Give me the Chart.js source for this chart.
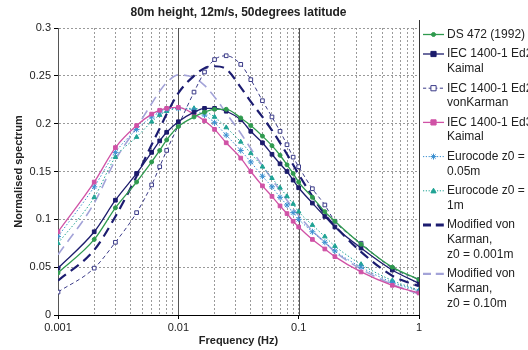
<!DOCTYPE html>
<html><head><meta charset="utf-8">
<script src="https://cdn.jsdelivr.net/npm/chart.js@4.4.0/dist/chart.umd.min.js"></script>
<style>html,body{margin:0;padding:0;background:#fff;}#wrap{width:528px;height:350px;position:relative;overflow:hidden;}</style>
</head><body><div id="wrap"><canvas id="c" width="528" height="350"></canvas></div>
<script>
const chartTitle = '80m height, 12m/s, 50degrees latitude';
const xAxisTitle = 'Frequency (Hz)';
const yAxisTitle = 'Normalised spectrum';

const frequency = [0.001,0.002,0.003,0.0045,0.006,0.007,0.008,0.01,0.0135,0.0165,0.02,0.025,0.033,0.04,0.05,0.06,0.07,0.08,0.09,0.1,0.13,0.165,0.2,0.33,0.6,1];

const ds472 = [0.044,0.079,0.112,0.139,0.160,0.172,0.183,0.197,0.207,0.212,0.215,0.215,0.206,0.198,0.187,0.177,0.167,0.157,0.148,0.139,0.123,0.108,0.098,0.074,0.050,0.037];
const iecEd2Kaimal = [0.049,0.087,0.120,0.148,0.170,0.182,0.191,0.202,0.212,0.216,0.216,0.213,0.204,0.192,0.180,0.168,0.158,0.150,0.141,0.133,0.117,0.103,0.092,0.070,0.047,0.033];
const iecEd2VonKarman = [0.024,0.049,0.076,0.107,0.136,0.155,0.172,0.198,0.233,0.254,0.267,0.271,0.262,0.246,0.224,0.207,0.192,0.178,0.165,0.155,0.132,0.115,0.098,0.075,0.049,0.037];
const iecEd3Kaimal = [0.087,0.139,0.175,0.198,0.210,0.214,0.216,0.217,0.210,0.203,0.194,0.180,0.164,0.150,0.135,0.124,0.114,0.106,0.098,0.092,0.079,0.069,0.061,0.045,0.031,0.023];
const eurocode005 = [0.082,0.134,0.170,0.194,0.207,0.212,0.215,0.216,0.214,0.209,0.201,0.188,0.172,0.160,0.145,0.134,0.123,0.115,0.107,0.100,0.087,0.076,0.067,0.050,0.034,0.025];
const eurocode1 = [0.075,0.123,0.165,0.186,0.202,0.209,0.213,0.216,0.216,0.213,0.207,0.196,0.181,0.169,0.155,0.143,0.133,0.124,0.116,0.108,0.094,0.082,0.072,0.053,0.036,0.026];
const modVonKarman0001 = [0.036,0.068,0.103,0.145,0.178,0.195,0.210,0.232,0.250,0.258,0.260,0.257,0.238,0.223,0.207,0.193,0.180,0.168,0.157,0.147,0.124,0.105,0.093,0.066,0.041,0.030];
const modVonKarman010 = [0.063,0.117,0.162,0.196,0.221,0.234,0.243,0.251,0.248,0.240,0.228,0.211,0.190,0.174,0.156,0.142,0.130,0.120,0.111,0.104,0.088,0.076,0.066,0.048,0.032,0.022];

const seriesLabels = [
  ['DS 472 (1992)'],
  ['IEC 1400-1 Ed2', 'Kaimal'],
  ['IEC 1400-1 Ed2', 'vonKarman'],
  ['IEC 1400-1 Ed3', 'Kaimal'],
  ['Eurocode z0 =', '0.05m'],
  ['Eurocode z0 =', '1m'],
  ['Modified von', 'Karman,', 'z0 = 0.001m'],
  ['Modified von', 'Karman,', 'z0 = 0.10m']
];
const seriesValues = [ds472, iecEd2Kaimal, iecEd2VonKarman, iecEd3Kaimal, eurocode005, eurocode1, modVonKarman0001, modVonKarman010];

const xTickValues = [0.001, 0.01, 0.1, 1];
const xTickLabels = ['0.001', '0.01', '0.1', '1'];
const yTickValues = [0, 0.05, 0.1, 0.15, 0.2, 0.25, 0.3];
const yTickLabels = ['0', '0.05', '0.1', '0.15', '0.2', '0.25', '0.3'];

const styles = [
  {color:'#2f9a4e', width:1.3, dash:[], point:'circle', r:2, fill:'#2f9a4e'},
  {color:'#1c1c6c', width:1.3, dash:[], point:'rect', r:2.6, fill:'#1c1c6c'},
  {color:'#3b3b88', width:1, dash:[4,3], point:'rect', r:2.6, fill:'#ffffff'},
  {color:'#d052a6', width:1.3, dash:[], point:'rect', r:2.6, fill:'#d052a6'},
  {color:'#3a8fd0', width:1, dash:[1.5,2], point:'star', r:3, fill:'#3a8fd0'},
  {color:'#1fa394', width:1, dash:[1.5,2], point:'triangle', r:2.6, fill:'#1fa394'},
  {color:'#1c1c70', width:2.2, dash:[10,6], point:false, r:0, fill:'#1c1c70'},
  {color:'#a3a3d8', width:1.6, dash:[10,6], point:false, r:0, fill:'#a3a3d8'}
];

const FONT = "'Liberation Sans', Arial, sans-serif";

const gridValues = [];
for (let d = 0; d < 3; d++) for (let m = 1; m <= 9; m++) gridValues.push(+(m * Math.pow(10, d - 3)).toPrecision(3));
gridValues.push(1);

const datasets = seriesValues.map((vals, i) => {
  const s = styles[i];
  return {
    label: seriesLabels[i].join(' '),
    data: frequency.map((f, j) => ({x: f, y: vals[j]})),
    borderColor: s.color,
    backgroundColor: s.fill,
    borderWidth: s.width,
    borderDash: s.dash,
    pointStyle: s.point,
    pointRadius: s.r,
    pointBorderColor: s.color,
    pointBackgroundColor: s.fill,
    pointBorderWidth: 1,
    cubicInterpolationMode: 'monotone',
    fill: false
  };
});

function drawMarker(ctx, style, x, y) {
  if (!style.point) return;
  const r = style.r;
  ctx.save();
  ctx.setLineDash([]);
  ctx.lineWidth = 1;
  ctx.strokeStyle = style.color;
  ctx.fillStyle = style.fill;
  ctx.beginPath();
  if (style.point === 'circle') { ctx.arc(x, y, r, 0, Math.PI * 2); ctx.fill(); ctx.stroke(); }
  else if (style.point === 'rect') { ctx.rect(x - r, y - r, 2 * r, 2 * r); ctx.fill(); ctx.stroke(); }
  else if (style.point === 'triangle') { ctx.moveTo(x, y - r); ctx.lineTo(x + r, y + r * 0.8); ctx.lineTo(x - r, y + r * 0.8); ctx.closePath(); ctx.fill(); ctx.stroke(); }
  else if (style.point === 'star') { ctx.moveTo(x - r, y); ctx.lineTo(x + r, y); ctx.moveTo(x, y - r); ctx.lineTo(x, y + r); ctx.moveTo(x - r*0.7, y - r*0.7); ctx.lineTo(x + r*0.7, y + r*0.7); ctx.moveTo(x - r*0.7, y + r*0.7); ctx.lineTo(x + r*0.7, y - r*0.7); ctx.stroke(); }
  ctx.restore();
}

const decorations = {
  id: 'decorations',
  beforeDatasetsDraw(chart) {
    const {ctx, chartArea, scales} = chart;
    ctx.save();
    ctx.strokeStyle = '#555';
    ctx.lineWidth = 1;
    xTickValues.forEach(v => {
      const px = Math.round(scales.x.getPixelForValue(v)) + 0.5;
      ctx.beginPath(); ctx.moveTo(px, chartArea.top); ctx.lineTo(px, chartArea.bottom); ctx.stroke();
    });
    ctx.restore();
  },
  afterDraw(chart) {
    const {ctx, chartArea} = chart;
    ctx.save();
    ctx.fillStyle = '#222';
    ctx.font = 'bold 12px ' + FONT;
    ctx.textAlign = 'center';
    ctx.textBaseline = 'middle';
    ctx.fillText(chartTitle, (chartArea.left + chartArea.right) / 2, 13);
    // legend
    const lx = chartArea.right;
    ctx.fillStyle = '#fff';
    ctx.fillRect(lx + 1, 20, 140, 300);
    ctx.strokeStyle = '#333';
    ctx.lineWidth = 1;
    ctx.beginPath(); ctx.moveTo(lx + 0.5, 20); ctx.lineTo(lx + 0.5, chartArea.bottom); ctx.stroke();
    ctx.font = '12px ' + FONT;
    ctx.textAlign = 'left';
    let y = 34.5;
    const lineH = 14.7, gap = 4.8;
    seriesLabels.forEach((lines, i) => {
      const s = styles[i];
      ctx.save();
      ctx.strokeStyle = s.color;
      ctx.lineWidth = s.width + (s.point ? 0 : 0.6);
      ctx.setLineDash(s.dash.length ? s.dash.map(d => d * 0.8) : []);
      ctx.beginPath(); ctx.moveTo(lx + 4, y); ctx.lineTo(lx + 25, y); ctx.stroke();
      ctx.restore();
      drawMarker(ctx, s, lx + 14.5, y);
      ctx.fillStyle = '#222';
      lines.forEach((t, k) => ctx.fillText(t, lx + 28, y + k * lineH));
      y += lines.length * lineH + gap;
    });
    ctx.restore();
  }
};

new Chart(document.getElementById('c'), {
  type: 'line',
  data: { datasets },
  plugins: [decorations],
  options: {
    responsive: false,
    animation: false,
    devicePixelRatio: 1,
    layout: { padding: { top: 28, right: 109, bottom: 0, left: 0 } },
    plugins: { legend: { display: false }, tooltip: { enabled: false }, title: { display: false } },
    scales: {
      x: {
        type: 'logarithmic',
        min: 0.001, max: 1,
        afterBuildTicks: (scale) => { scale.ticks = gridValues.map(v => ({ value: v })); },
        afterFit: (scale) => { scale.height = 35; },
        ticks: {
          autoSkip: false, maxRotation: 0, color: '#222', padding: 2,
          font: { family: FONT, size: 11 },
          callback: (value) => { const i = xTickValues.findIndex(v => Math.abs(v - value) < 1e-9); return i >= 0 ? xTickLabels[i] : ''; }
        },
        grid: {
          color: '#9a9a9a', lineWidth: 1, tickLength: 4, tickBorderDash: [],
          tickColor: (c) => xTickValues.some(v => Math.abs(v - c.tick.value) < 1e-9) ? '#000' : 'rgba(0,0,0,0)'
        },
        border: { color: '#000', width: 1, dash: [2, 2] },
        title: { display: true, text: xAxisTitle, color: '#222', font: { family: FONT, size: 11, weight: 'bold' }, padding: { top: 0, bottom: 2 } }
      },
      y: {
        min: 0, max: 0.3,
        afterBuildTicks: (scale) => { scale.ticks = yTickValues.map(v => ({ value: v })); },
        afterFit: (scale) => { scale.width = 58; },
        ticks: {
          color: '#222', padding: 3, font: { family: FONT, size: 11 },
          callback: (value) => { const i = yTickValues.findIndex(v => Math.abs(v - value) < 1e-9); return i >= 0 ? yTickLabels[i] : ''; }
        },
        grid: { color: '#9a9a9a', lineWidth: 1, tickLength: 4, tickBorderDash: [], tickColor: '#000' },
        border: { color: '#000', width: 1, dash: [2, 2] },
        title: { display: true, text: yAxisTitle, color: '#222', font: { family: FONT, size: 11, weight: 'bold' }, padding: { top: 12, bottom: 0 } }
      }
    }
  }
});
</script>
</body></html>
